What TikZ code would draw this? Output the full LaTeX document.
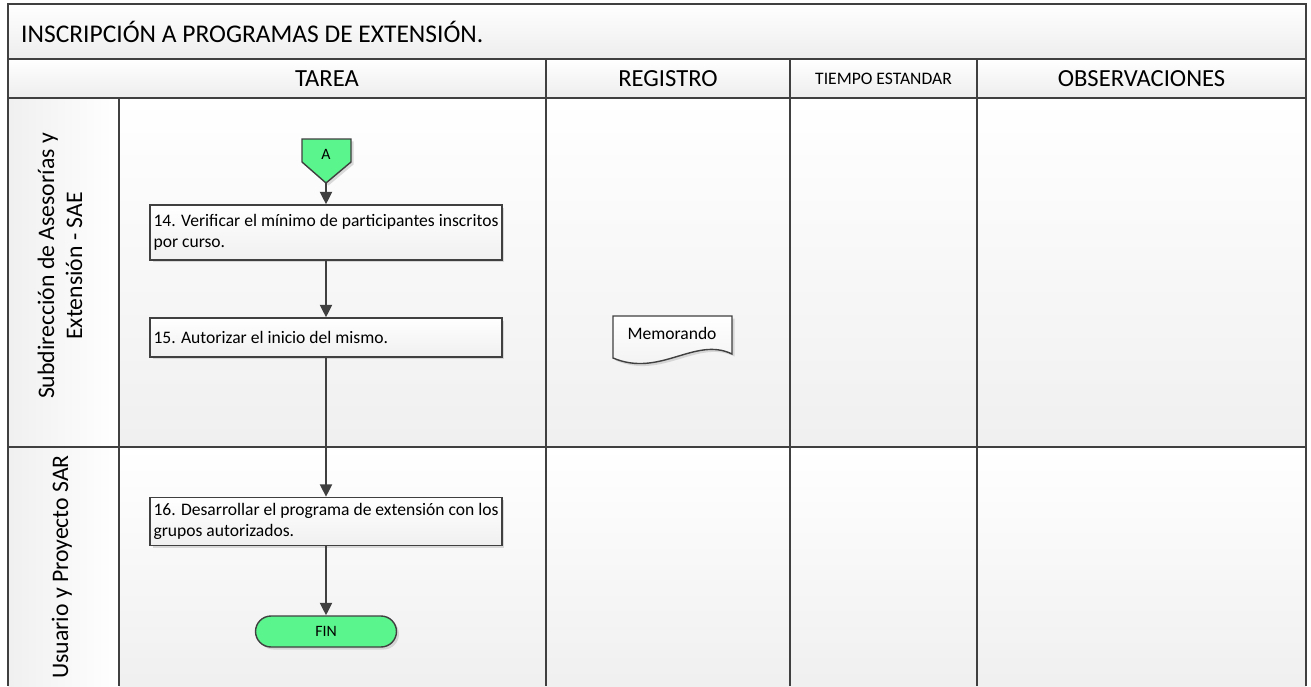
\documentclass[tikz,border=0pt]{standalone}
\usepackage{fontspec}
\setmainfont{Carlito}
\usepackage{xcolor}
\usepackage{tikz}
\usetikzlibrary{positioning}
\usetikzlibrary{shadows}
\usetikzlibrary{arrows.meta}
\definecolor{linea}{RGB}{64,64,64}
\definecolor{verdeA}{RGB}{90,245,140}
\begin{document}
\begin{tikzpicture}[
	x=0.02cm, y=-0.02cm,
	font=\fontsize{10}{12}\selectfont
]
\tikzset{
    borde/.style = {draw=linea, line width=1pt},
    sombra/.style = {drop shadow={shadow xshift=0.05cm, shadow yshift=-0.05cm, fill=gray!55}},
    myrect/.style = {rectangle, draw=linea, thick, top color=white, bottom color=gray!12, sombra, minimum width=7.04cm, text width=6.9cm, align=justify, inner xsep=0.07cm},
    finrect/.style = {rectangle, draw=linea, thick, fill=verdeA, sombra, rounded corners=0.31cm, minimum width=2.82cm, minimum height=0.62cm, font=\fontsize{9}{11}\selectfont},
    cabecera/.style = {font=\fontsize{14}{17}\selectfont},
    carril/.style = {rotate=90, align=center, font=\fontsize{13.5}{16}\selectfont},
    flecha/.style = {draw=linea, line width=1.1pt, -{Triangle[length=0.25cm,width=0.24cm]}}
}
\useasboundingbox (0,0) rectangle (1311,686);
\shade[top color=white, bottom color=gray!14] (8,4) rectangle (1306,59);
\shade[top color=white, bottom color=gray!14] (8,59) rectangle (1306,98);
\shade[top color=white, bottom color=gray!12] (119,98) rectangle (1306,447);
\shade[top color=white, bottom color=gray!12] (119,447) rectangle (1306,686);
\shade[left color=gray!12, right color=white] (8,98) rectangle (119,686);
\draw[borde] (8,686) -- (8,4) -- (1306,4) -- (1306,686);
\draw[borde] (8,59) -- (1306,59);
\draw[borde] (8,98) -- (1306,98);
\draw[borde] (8,447) -- (1306,447);
\draw[borde] (119,98) -- (119,686);
\foreach \x in {546,790,977}
    \draw[borde] (\x,59) -- (\x,686);
\node[anchor=west, font=\fontsize{14.5}{17}\selectfont] (titulo) at (15,32) {INSCRIPCIÓN A PROGRAMAS DE EXTENSIÓN.};
\node[cabecera] (tarea) at (327,79) {TAREA};
\node[cabecera] (registro) at (668,79) {REGISTRO};
\node[font=\fontsize{10}{12}\selectfont] (tiempo) at (883.5,79) {TIEMPO ESTANDAR};
\node[cabecera] (observaciones) at (1141.5,79) {OBSERVACIONES};
\node[carril] (sae) at (60,266) {Subdirección de Asesorías y\\Extensión - SAE};
\node[carril] (sar) at (62,567) {Usuario y Proyecto SAR};
\draw[draw=linea, thick, fill=verdeA, sombra] (302,139) -- (351,139) -- (351,162) -- (326,183) -- (302,162) -- cycle;
\node[font=\fontsize{9}{11}\selectfont] (A) at (326,154) {A};
\coordinate (A-punta) at (326,183);
\node[myrect, minimum height=1.1cm] (t14) at (326,232.5) {14. Verificar el mínimo de participantes inscritos por curso.};
\node[myrect, minimum height=0.78cm] (t15) at (326,337.5) {15. Autorizar el inicio del mismo.};
\node[myrect, minimum height=0.78cm] (t16) at (326,521.5) {16. Desarrollar el programa de extensión con los grupos autorizados.};
\node[finrect] (fin) at (326,631.5) {FIN};
\draw[draw=linea, thick, top color=white, bottom color=gray!12, sombra] (613,316) -- (732,316) -- (732,354) .. controls (695,336) and (660,378) .. (613,358) -- cycle;
\node (memo) at (672,333) {Memorando};
\draw[flecha] (A-punta) -- (t14);
\draw[flecha] (t14) -- (t15);
\draw[flecha] (t15) -- (t16);
\draw[flecha] (t16) -- (fin);
\end{tikzpicture}
\end{document}
